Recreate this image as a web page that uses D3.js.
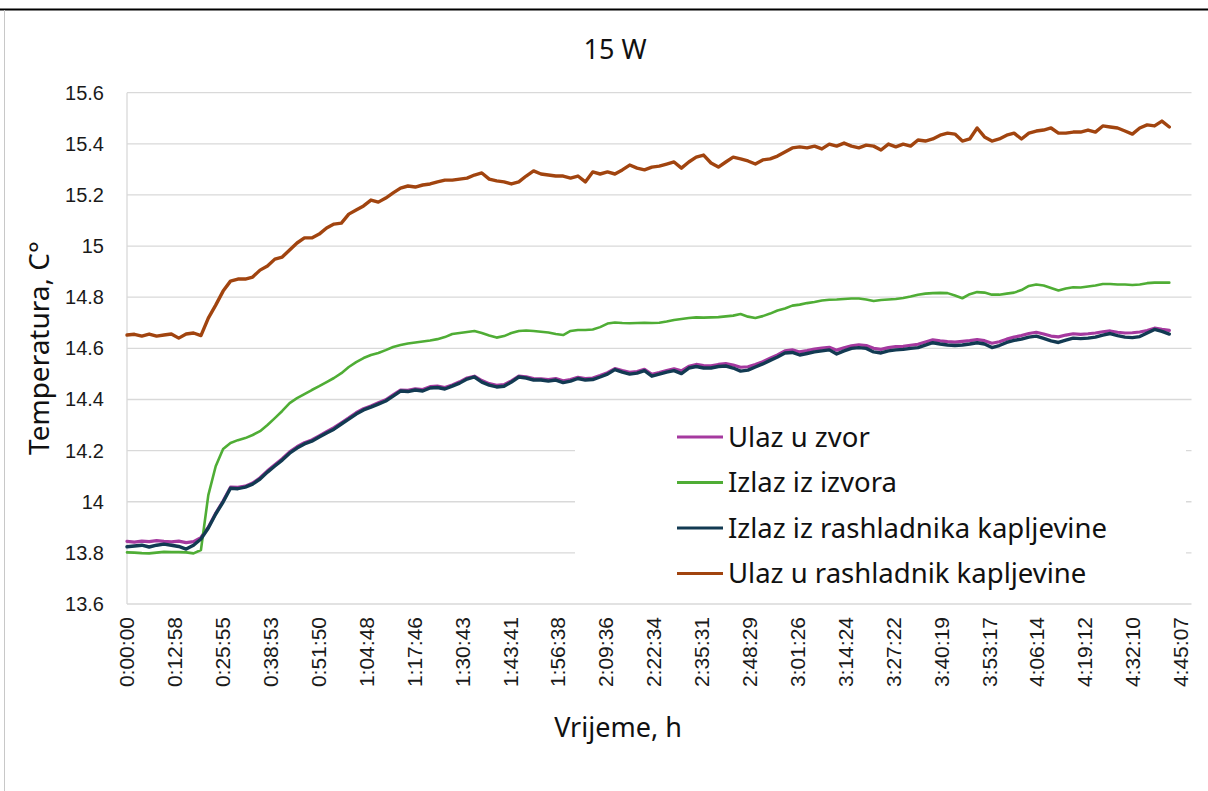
<!DOCTYPE html>
<html>
<head>
<meta charset="utf-8">
<script src="https://cdn.jsdelivr.net/npm/d3@7"></script>
<style>
  body { margin: 0; background: #fff; }
</style>
</head>
<body>
<div id="container"></div>
<script>
// sample times, minutes from start (every 2 min)
const minutes = d3.range(0, 283, 2);

const ulazZvor = [
  13.845,13.842,13.846,13.844,13.848,13.845,13.843,13.846,13.840,13.844,
  13.860,13.900,13.955,14.003,14.057,14.056,14.061,14.073,14.094,14.121,
  14.145,14.168,14.195,14.215,14.231,14.242,14.258,14.274,14.290,14.309,
  14.328,14.348,14.364,14.375,14.387,14.399,14.418,14.437,14.436,14.442,
  14.439,14.450,14.452,14.447,14.457,14.469,14.484,14.491,14.474,14.462,
  14.455,14.458,14.473,14.491,14.489,14.482,14.481,14.478,14.482,14.473,
  14.478,14.487,14.482,14.484,14.494,14.505,14.521,14.513,14.506,14.509,
  14.518,14.498,14.505,14.513,14.520,14.512,14.530,14.537,14.533,14.532,
  14.537,14.540,14.535,14.526,14.528,14.537,14.548,14.561,14.574,14.590,
  14.594,14.586,14.591,14.597,14.601,14.604,14.593,14.602,14.610,14.614,
  14.611,14.600,14.596,14.603,14.607,14.608,14.612,14.616,14.625,14.633,
  14.629,14.626,14.624,14.627,14.630,14.634,14.630,14.620,14.626,14.636,
  14.644,14.650,14.658,14.663,14.656,14.648,14.645,14.652,14.657,14.655,
  14.657,14.660,14.665,14.668,14.663,14.660,14.661,14.664,14.670,14.679,
  14.674,14.670
];

const izlazIzvora = [
  13.802,13.801,13.799,13.798,13.801,13.804,13.803,13.803,13.802,13.798,
  13.811,14.026,14.139,14.206,14.230,14.241,14.249,14.261,14.276,14.300,
  14.327,14.355,14.386,14.405,14.421,14.437,14.452,14.468,14.484,14.503,
  14.527,14.546,14.562,14.574,14.582,14.593,14.605,14.613,14.619,14.623,
  14.627,14.631,14.636,14.644,14.656,14.660,14.664,14.668,14.660,14.650,
  14.642,14.648,14.660,14.668,14.670,14.668,14.665,14.662,14.656,14.652,
  14.668,14.672,14.672,14.674,14.683,14.697,14.701,14.699,14.698,14.699,
  14.700,14.699,14.700,14.705,14.711,14.715,14.719,14.721,14.720,14.721,
  14.722,14.725,14.728,14.734,14.724,14.719,14.726,14.736,14.748,14.756,
  14.767,14.771,14.777,14.781,14.787,14.790,14.791,14.793,14.795,14.795,
  14.791,14.785,14.789,14.791,14.793,14.797,14.803,14.810,14.814,14.816,
  14.817,14.816,14.807,14.796,14.812,14.820,14.818,14.810,14.810,14.814,
  14.818,14.828,14.844,14.850,14.846,14.836,14.826,14.834,14.839,14.838,
  14.842,14.846,14.852,14.852,14.850,14.850,14.848,14.850,14.855,14.857,
  14.857,14.857
];

const izlazRashladnika = [
  13.824,13.827,13.830,13.823,13.830,13.834,13.830,13.825,13.815,13.830,
  13.854,13.897,13.952,13.999,14.053,14.051,14.057,14.069,14.089,14.116,
  14.140,14.163,14.190,14.210,14.226,14.237,14.253,14.269,14.284,14.304,
  14.323,14.343,14.359,14.370,14.382,14.394,14.413,14.433,14.431,14.437,
  14.433,14.445,14.447,14.441,14.452,14.464,14.480,14.488,14.468,14.456,
  14.449,14.452,14.468,14.488,14.484,14.476,14.476,14.472,14.476,14.466,
  14.472,14.482,14.476,14.478,14.488,14.499,14.517,14.507,14.499,14.503,
  14.513,14.491,14.499,14.507,14.513,14.501,14.523,14.529,14.523,14.523,
  14.529,14.531,14.523,14.511,14.515,14.527,14.539,14.553,14.566,14.582,
  14.584,14.574,14.580,14.586,14.590,14.594,14.578,14.590,14.600,14.603,
  14.600,14.586,14.582,14.590,14.594,14.596,14.600,14.603,14.613,14.622,
  14.617,14.613,14.611,14.613,14.617,14.622,14.617,14.603,14.611,14.623,
  14.631,14.636,14.644,14.648,14.639,14.629,14.623,14.632,14.640,14.638,
  14.640,14.644,14.652,14.658,14.650,14.644,14.642,14.646,14.660,14.674,
  14.666,14.656
];

const ulazRashladnik = [
  14.652,14.655,14.648,14.656,14.648,14.652,14.656,14.640,14.656,14.660,
  14.650,14.718,14.769,14.824,14.863,14.871,14.871,14.879,14.906,14.922,
  14.949,14.957,14.985,15.012,15.032,15.032,15.047,15.071,15.086,15.090,
  15.125,15.141,15.157,15.180,15.172,15.188,15.208,15.227,15.235,15.231,
  15.239,15.243,15.251,15.258,15.258,15.262,15.266,15.278,15.286,15.262,
  15.255,15.251,15.243,15.251,15.274,15.294,15.282,15.278,15.274,15.274,
  15.266,15.274,15.251,15.290,15.282,15.290,15.282,15.298,15.317,15.305,
  15.298,15.309,15.313,15.321,15.329,15.305,15.329,15.348,15.356,15.325,
  15.309,15.329,15.348,15.341,15.333,15.321,15.337,15.341,15.352,15.368,
  15.384,15.388,15.384,15.391,15.380,15.399,15.391,15.403,15.391,15.384,
  15.395,15.391,15.376,15.399,15.388,15.399,15.391,15.415,15.411,15.419,
  15.434,15.442,15.438,15.411,15.419,15.462,15.427,15.411,15.419,15.434,
  15.442,15.419,15.442,15.450,15.454,15.462,15.442,15.442,15.446,15.446,
  15.454,15.446,15.470,15.466,15.462,15.450,15.438,15.462,15.474,15.470,
  15.489,15.466
];

const seriesNames = ["Ulaz u zvor", "Izlaz iz izvora", "Izlaz iz rashladnika kapljevine", "Ulaz u rashladnik kapljevine"];
const seriesValues = [ulazZvor, izlazIzvora, izlazRashladnika, ulazRashladnik];
const seriesColors = ["#a5399f", "#4fad35", "#123a52", "#a1440f"];
const seriesWidths = [3.2, 2.6, 3.4, 3.4];

const xTickLabels = ["0:00:00","0:12:58","0:25:55","0:38:53","0:51:50","1:04:48","1:17:46","1:30:43",
  "1:43:41","1:56:38","2:09:36","2:22:34","2:35:31","2:48:29","3:01:26","3:14:24","3:27:22",
  "3:40:19","3:53:17","4:06:14","4:19:12","4:32:10","4:45:07"];
const yTicks = [13.6, 13.8, 14, 14.2, 14.4, 14.6, 14.8, 15, 15.2, 15.4, 15.6];

const width = 1208, height = 791;
const margin = {left: 127, right: 1191.5, top: 92.7, bottom: 604};

function toSeconds(s) {
  const p = s.split(":").map(Number);
  return p[0] * 3600 + p[1] * 60 + p[2];
}

const svg = d3.select("#container").append("svg")
  .attr("width", width).attr("height", height)
  .style("font-family", "'Liberation Sans', Arial, sans-serif");

// page frame bits
svg.append("line").attr("x1", 0).attr("x2", width).attr("y1", 9.5).attr("y2", 9.5)
  .attr("stroke", "#000").attr("stroke-width", 1.8);
svg.append("line").attr("x1", 4.5).attr("x2", 4.5).attr("y1", 10).attr("y2", height)
  .attr("stroke", "#c8c8c8").attr("stroke-width", 1);

const x = d3.scaleLinear().domain([0, 17280]).range([margin.left, margin.right]);
const y = d3.scaleLinear().domain([13.6, 15.6]).range([margin.bottom, margin.top]);

// gridlines
svg.append("g").selectAll("line").data(yTicks).enter().append("line")
  .attr("x1", margin.left).attr("x2", margin.right)
  .attr("y1", d => y(d)).attr("y2", d => y(d))
  .attr("stroke", "#d9d9d9").attr("stroke-width", 1.3);
svg.append("line").attr("x1", margin.left).attr("x2", margin.left)
  .attr("y1", margin.top).attr("y2", margin.bottom)
  .attr("stroke", "#d9d9d9").attr("stroke-width", 1.3);

// y tick labels
svg.append("g").selectAll("text").data(yTicks).enter().append("text")
  .attr("x", 104).attr("y", d => y(d)).attr("dy", "0.35em")
  .attr("text-anchor", "end").attr("font-size", 20).attr("fill", "#1a1a1a")
  .text(d => d3.format("")(+d.toFixed(1)));

// x tick labels (rotated)
svg.append("g").selectAll("text").data(xTickLabels).enter().append("text")
  .attr("transform", d => `translate(${x(toSeconds(d))},617) rotate(-90)`)
  .attr("dy", "0.35em").attr("text-anchor", "end")
  .attr("font-size", 21).attr("fill", "#1a1a1a")
  .text(d => d);

// lines
const line = d3.line()
  .defined(d => d.v != null)
  .x(d => x(d.t * 60))
  .y(d => y(d.v));

seriesValues.forEach((vals, i) => {
  const pts = minutes.map((m, k) => ({t: m, v: vals[k]}));
  svg.append("path").datum(pts)
    .attr("d", line)
    .attr("fill", "none")
    .attr("stroke", seriesColors[i])
    .attr("stroke-width", seriesWidths[i])
    .attr("stroke-linejoin", "round").attr("stroke-linecap", "round");
});

// legend
svg.append("rect").attr("x", 575).attr("y", 412).attr("width", 611).attr("height", 184).attr("fill", "#fff");
const legend = svg.append("g").selectAll("g").data(seriesNames).enter().append("g")
  .attr("transform", (d, i) => `translate(677,${437 + i * 45.5})`);
legend.append("line").attr("x1", 0).attr("x2", 46).attr("y1", 0).attr("y2", 0)
  .attr("stroke", (d, i) => seriesColors[i]).attr("stroke-width", 3);
legend.append("text").attr("x", 51).attr("y", 0).attr("dy", "0.35em")
  .attr("font-family", "'Noto Sans', sans-serif").attr("font-size", 27.5).attr("fill", "#111")
  .text(d => d);

// title and axis titles
svg.append("text").attr("x", 615).attr("y", 59).attr("text-anchor", "middle")
  .attr("font-family", "'Noto Sans', sans-serif").attr("font-size", 27).attr("fill", "#111")
  .text("15 W");
svg.append("text").attr("transform", "translate(49,348) rotate(-90)").attr("text-anchor", "middle")
  .attr("font-family", "'Noto Sans', sans-serif").attr("font-size", 28).attr("fill", "#111")
  .text("Temperatura, C°");
svg.append("text").attr("x", 618).attr("y", 737).attr("text-anchor", "middle")
  .attr("font-family", "'Noto Sans', sans-serif").attr("font-size", 27).attr("fill", "#111")
  .text("Vrijeme, h");
</script>
</body>
</html>
